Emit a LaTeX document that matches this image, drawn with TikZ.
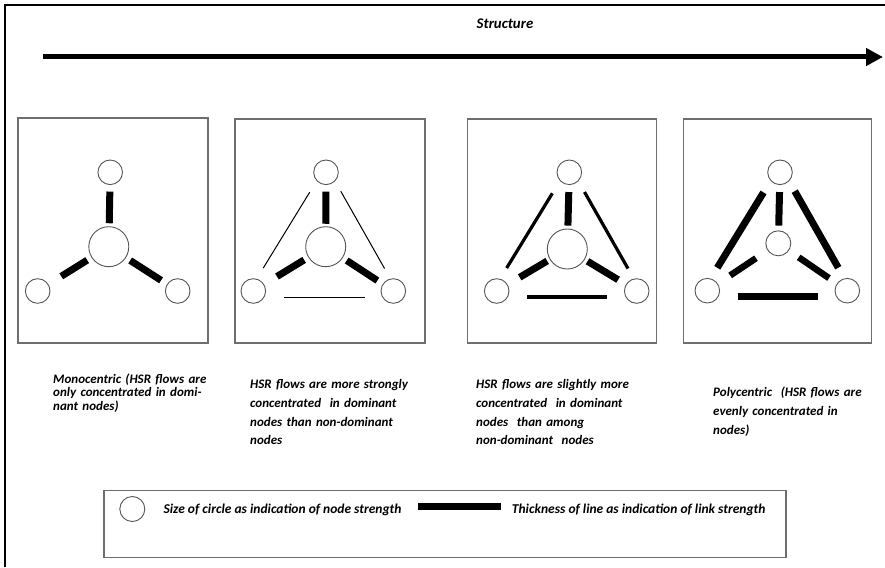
\documentclass[tikz,border=0pt]{standalone}
\usepackage{fontspec}
\setmainfont{Carlito}
\usetikzlibrary{arrows.meta}
\definecolor{boxgray}{HTML}{6E6E6E}
\definecolor{circgray}{HTML}{555555}
\tikzset{
  panel/.style={draw=boxgray, line width=1.2pt, fill=white},
  smallc/.style={circle, draw=circgray, line width=0.9pt, fill=white, minimum size=24.6pt, inner sep=0pt},
  bigc/.style={circle, draw=circgray, line width=0.9pt, fill=white, minimum size=40pt, inner sep=0pt},
  spoke/.style={line width=7pt, black},
  lk/.style 2 args={shorten <=#1pt, shorten >=#2pt},
  capt/.style={font=\bfseries\itshape\fontsize{13}{18.8}\selectfont, align=left, text width=190pt, inner sep=0pt, anchor=base west},
  legtext/.style={font=\bfseries\itshape\fontsize{13.5}{15}\selectfont, inner sep=0pt, anchor=west},
  lsh/.style={transform canvas={xshift=-3pt, yshift=1.8pt}},
  rsh/.style={transform canvas={xshift=3pt, yshift=1.8pt}},
  bsh/.style={transform canvas={yshift=-6pt}}
}
\begin{document}
\begin{tikzpicture}[x=1pt, y=-1pt]
\useasboundingbox (0,0) rectangle (885,567);
\fill[white] (0,0) rectangle (885,567);
% outer frame (left and top edges)
\coordinate (f1) at (5,567);
\coordinate (f2) at (5,5);
\coordinate (f3) at (885,5);
\draw[line width=2pt, black] (f1) -- (f2) -- (f3);
% title and arrow
\node[font=\bfseries\itshape\fontsize{14.8}{16}\selectfont, inner sep=0pt] (title) at (505,24) {Structure};
\coordinate (as) at (43,57);
\coordinate (ae) at (883,57);
\draw[line width=5pt, -{Triangle[length=17pt, width=17pt]}] (as) -- (ae);

% panels
\node[panel, minimum width=190pt, minimum height=225pt, inner sep=0pt] (box1) at (113,230.5) {};
\node[panel, minimum width=190pt, minimum height=224pt, inner sep=0pt] (box2) at (330,231) {};
\node[panel, minimum width=189pt, minimum height=224pt, inner sep=0pt] (box3) at (562,231) {};
\node[panel, minimum width=188pt, minimum height=224pt, inner sep=0pt] (box4) at (777.5,231) {};

% panel 1
\node[smallc] (p1t) at (110.2,172.3) {};
\node[bigc]   (p1c) at (108.8,246.7) {};
\node[smallc] (p1l) at (37.7,291) {};
\node[smallc] (p1r) at (177.7,291) {};
\draw[spoke, lk={6.5}{3}] (p1t) -- (p1c);
\draw[spoke, lk={15}{5}] (p1l) -- (p1c);
\draw[spoke, lk={7}{5}] (p1r) -- (p1c);

% panel 2
\node[smallc] (p2t) at (326,172.3) {};
\node[bigc]   (p2c) at (325.7,246.7) {};
\node[smallc] (p2l) at (253.3,291) {};
\node[smallc] (p2r) at (393.3,291) {};
\draw[spoke, lk={6.5}{2.5}] (p2t) -- (p2c);
\draw[spoke, lk={15}{4.8}] (p2l) -- (p2c);
\draw[spoke, lk={6.3}{4.7}] (p2r) -- (p2c);
\draw[line width=1pt, lsh, lk={12}{12.7}] (p2l) -- (p2t);
\draw[line width=1pt, rsh, lk={11}{11}] (p2t) -- (p2r);
\draw[line width=1pt, bsh, lk={18}{16}] (p2l) -- (p2r);

% panel 3
\node[smallc] (p3t) at (569.3,172.3) {};
\node[bigc]   (p3c) at (567.3,249) {};
\node[smallc] (p3l) at (496.7,291) {};
\node[smallc] (p3r) at (636.7,291) {};
\draw[spoke, lk={7}{3}] (p3t) -- (p3c);
\draw[spoke, lk={14}{3}] (p3l) -- (p3c);
\draw[spoke, lk={9}{3.2}] (p3r) -- (p3c);
\draw[line width=3.2pt, lsh, lk={12}{14}] (p3l) -- (p3t);
\draw[line width=3.2pt, rsh, lk={12}{11}] (p3t) -- (p3r);
\draw[line width=4pt, bsh, lk={18}{17}] (p3l) -- (p3r);

% panel 4
\node[smallc] (p4t) at (780,172.3) {};
\node[smallc, minimum size=25pt] (p4c) at (778.3,243.3) {};
\node[smallc] (p4l) at (707.3,290.7) {};
\node[smallc] (p4r) at (847.3,290.7) {};
\draw[spoke, lk={7}{4.8}] (p4t) -- (p4c);
\draw[spoke, line width=6.5pt, lk={14.7}{13.9}] (p4l) -- (p4c);
\draw[spoke, line width=6.5pt, lk={9.5}{11.8}] (p4r) -- (p4c);
\draw[line width=7pt, lsh, lk={12}{13}] (p4l) -- (p4t);
\draw[line width=7pt, rsh, lk={11}{11.6}] (p4t) -- (p4r);
\draw[line width=7pt, bsh, lk={17.7}{16.6}] (p4l) -- (p4r);

% captions
\node[capt, font=\bfseries\itshape\fontsize{13}{13.4}\selectfont] (cap1) at (53,383.5)
  {Monocentric (HSR flows are\\ only concentrated in domi-\\ nant nodes)};
\node[capt] (cap2) at (250,388.5)
  {HSR flows are more strongly\\ concentrated\ \ in dominant\\ nodes than non-dominant\\ nodes};
\node[capt] (cap3) at (476,388.5)
  {HSR flows are slightly more\\ concentrated\ \ in dominant\\ nodes\ \ than among\\ non-dominant\ \ nodes};
\node[capt] (cap4) at (713,396.5)
  {Polycentric\ \ (HSR flows are\\ evenly concentrated in\\ nodes)};

% legend
\node[panel, minimum width=682pt, minimum height=67pt, inner sep=0pt] (legend) at (445,523.7) {};
\node[smallc, minimum size=25pt] (legc) at (132.3,509) {};
\node[legtext] (legt1) at (163.3,510) {Size of circle as indication of node strength};
\coordinate (lb1) at (418.3,506.7);
\coordinate (lb2) at (501,506.7);
\draw[line width=7pt] (lb1) -- (lb2);
\node[legtext] (legt2) at (511.7,510) {Thickness of line as indication of link strength};
\end{tikzpicture}
\end{document}
